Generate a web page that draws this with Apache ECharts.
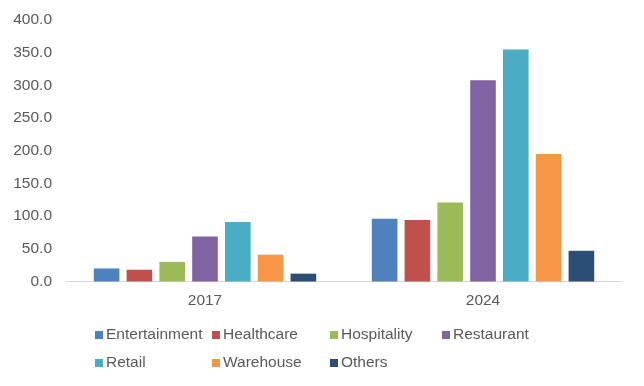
<!DOCTYPE html>
<html><head><meta charset="utf-8">
<script src="https://cdn.jsdelivr.net/npm/echarts@6/dist/echarts.min.js"></script>
<style>html,body{margin:0;padding:0;background:#fff}#c{width:644px;height:386px}</style>
</head><body><div id="c"></div>
<script>
const categories = ['2017', '2024'];
const seriesNames = ['Entertainment', 'Healthcare', 'Hospitality', 'Restaurant', 'Retail', 'Warehouse', 'Others'];
const entertainment = [20, 96];
const healthcare = [18, 94];
const hospitality = [30, 121];
const restaurant = [69, 308];
const retail = [91, 355];
const warehouse = [41, 195];
const others = [12, 47];
const yTicks = [0, 50, 100, 150, 200, 250, 300, 350, 400];

const values = [entertainment, healthcare, hospitality, restaurant, retail, warehouse, others];
const colors = ['#4F81BD', '#C0504D', '#9BBB59', '#8064A2', '#4BACC6', '#F79646', '#2C4D75'];
const legendPos = [[95, 327], [212, 327], [330, 327], [442, 327], [95, 355], [212, 355], [330, 355]];

const chart = echarts.init(document.getElementById('c'));
chart.setOption({
  animation: false,
  textStyle: { fontFamily: 'Liberation Sans, Arial, sans-serif' },
  grid: { left: 66, right: 22, top: 20, bottom: 104.5 },
  legend: seriesNames.map((n, i) => ({
    data: [n], left: legendPos[i][0], top: legendPos[i][1],
    icon: 'rect', itemWidth: 8, itemHeight: 8, padding: 0,
    textStyle: { color: '#595959', fontSize: 15.5, padding: [0, 0, 0, -2] }
  })),
  xAxis: {
    type: 'category', data: categories,
    axisLine: { lineStyle: { color: '#D9D9D9' } },
    axisTick: { show: false },
    axisLabel: { color: '#595959', fontSize: 15.5, margin: 11 }
  },
  yAxis: {
    type: 'value', min: yTicks[0], max: yTicks[yTicks.length - 1], interval: 50,
    splitLine: { show: false },
    axisLine: { show: false }, axisTick: { show: false },
    axisLabel: { color: '#595959', fontSize: 15.5, margin: 14, formatter: v => v.toFixed(1) }
  },
  series: seriesNames.map((n, i) => ({
    name: n, type: 'bar', data: values[i],
    itemStyle: { color: colors[i] },
    barGap: '28%', barCategoryGap: '20%'
  }))
});
</script></body></html>
